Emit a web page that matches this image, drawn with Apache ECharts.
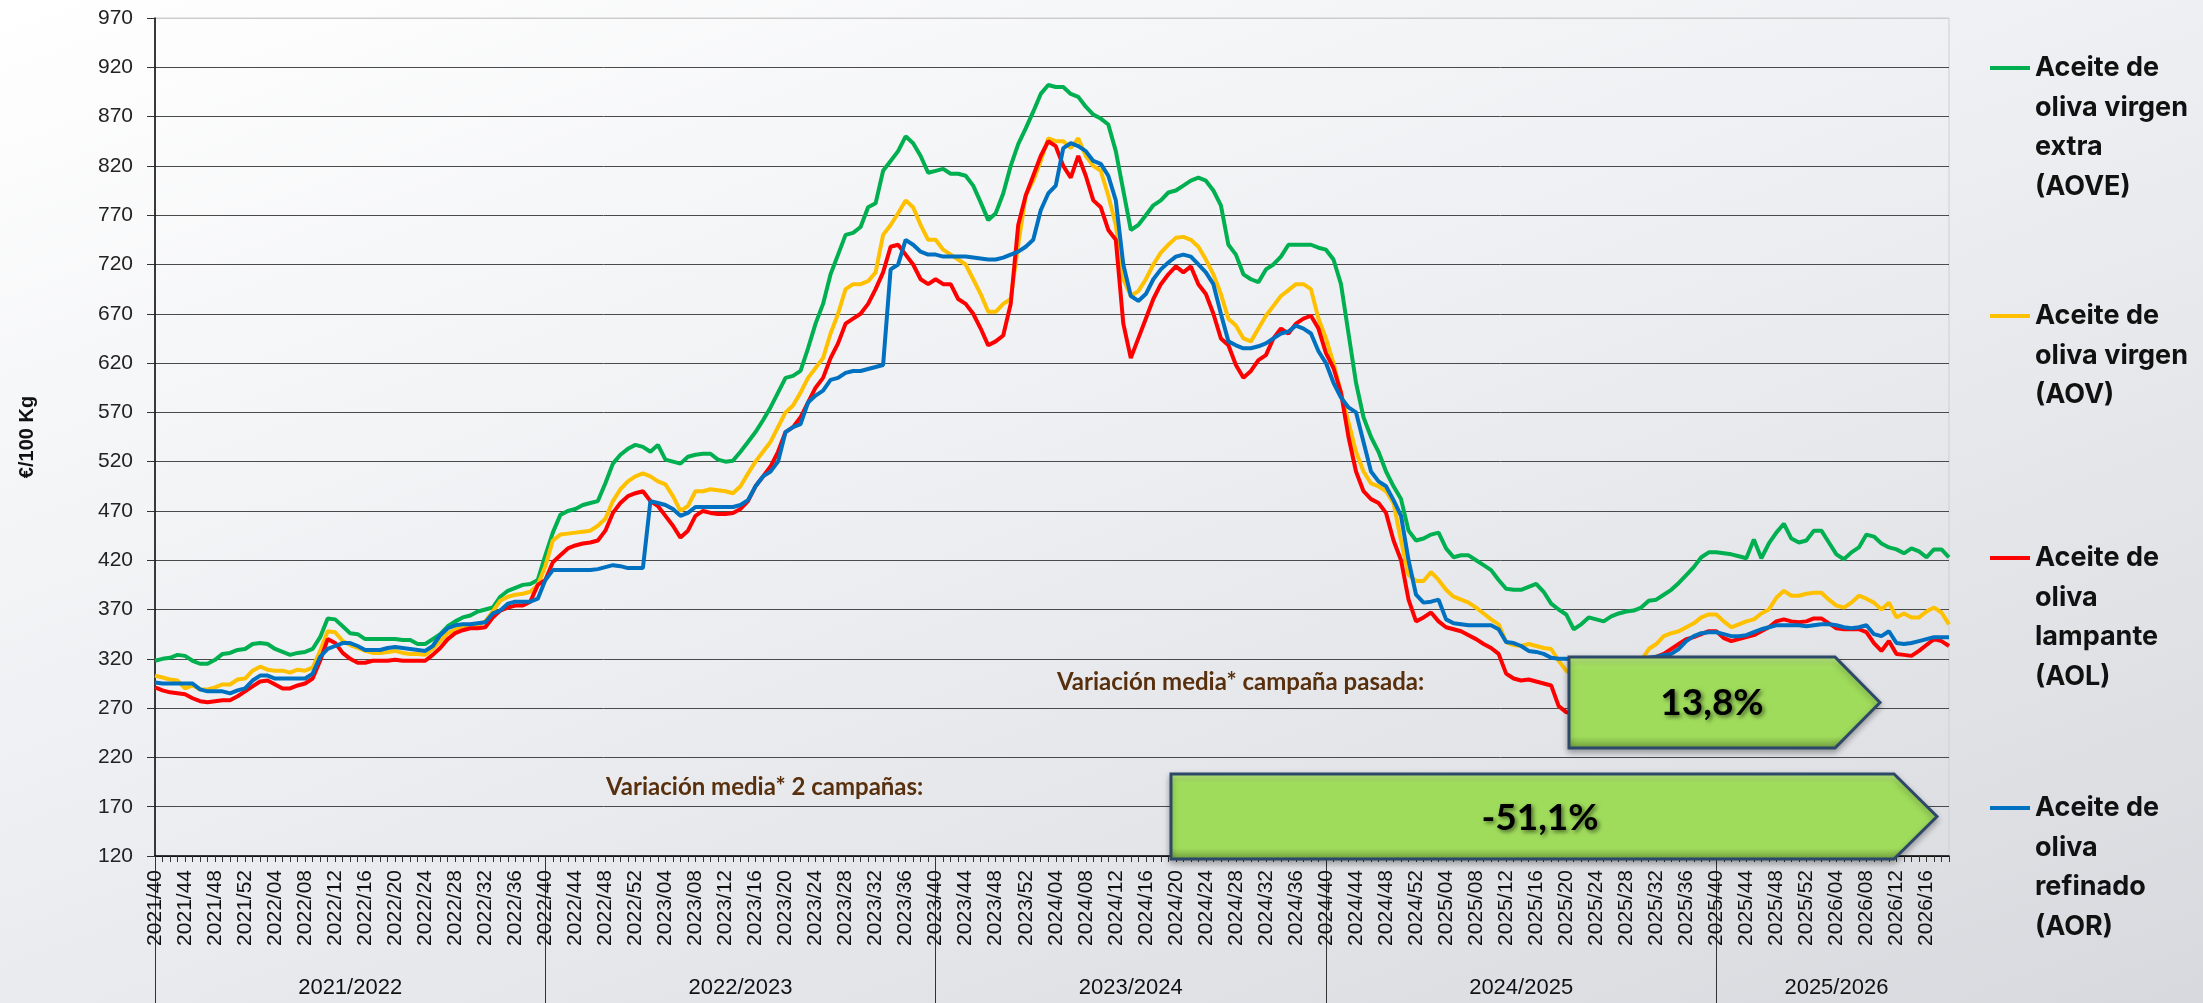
<!DOCTYPE html>
<html>
<head>
<meta charset="utf-8">
<title>Precios aceite de oliva</title>
<script src="https://cdn.jsdelivr.net/npm/echarts@6/dist/echarts.min.js"></script>
<style>
  html, body { margin: 0; padding: 0; }
  #chart {
    width: 2203px; height: 1003px;
    background: linear-gradient(160deg, #ffffff 0%, #eeeff2 45%, #d7d9de 100%);
  }
</style>
</head>
<body>
<div id="chart"></div>
<script>
// semanas 2021/40 ... 2026/19 (años ISO de 52 semanas)
const weeks = [];
for (let y = 2021, w = 40; weeks.length < 240; w++) {
  if (w > 52) { y++; w = 1; }
  weeks.push(y + '/' + String(w).padStart(2, '0'));
}

// campañas: empiezan en la semana 40
const campaigns = ['2021/2022', '2022/2023', '2023/2024', '2024/2025', '2025/2026'];
const campaignStart = [0, 52, 104, 156, 208];
const campaignMid = [26, 78, 130, 182, 224];

const yTicks = { min: 120, max: 970, step: 50 };

// €/100 kg, una fila por campaña
const aove = [
  318, 320, 321, 324, 323, 318, 315, 315, 319, 325, 326, 329, 330, 335, 336, 335, 330, 327, 324, 326, 327, 330, 342, 361, 360, 353, 346, 345, 340, 340, 340, 340, 340, 339, 339, 335, 335, 340, 345, 353, 358, 362, 364, 368, 370, 372, 383, 389, 392, 395, 396, 400,
  425, 448, 466, 470, 472, 476, 478, 480, 498, 518, 527, 533, 537, 535, 530, 537, 522, 520, 518, 525, 527, 528, 528, 522, 520, 521, 530, 540, 550, 562, 575, 590, 605, 607, 612, 635, 660, 680, 710, 730, 750, 752, 758, 778, 782, 815, 825, 835, 850, 843, 830, 813,
  815, 817, 812, 812, 810, 800, 783, 765, 772, 792, 820, 842, 858, 875, 893, 902, 900, 900, 893, 890, 880, 872, 868, 862, 835, 795, 755, 760, 770, 780, 785, 793, 795, 800, 805, 808, 805, 795, 780, 740, 730, 710, 705, 702, 715, 720, 728, 740, 740, 740, 740, 737,
  735, 725, 700, 650, 600, 565, 545, 530, 510, 495, 482, 450, 440, 442, 446, 448, 432, 423, 425, 425, 420, 415, 410, 400, 391, 390, 390, 393, 396, 388, 376, 370, 365, 350, 355, 362, 360, 358, 363, 366, 368, 369, 372, 379, 380, 385, 390, 397, 405, 413, 423, 428,
  428, 427, 426, 424, 422, 441, 422, 437, 448, 457, 442, 438, 440, 450, 450, 438, 426, 421, 428, 433, 446, 444, 437, 433, 431, 427, 432, 429, 423, 431, 431, 423
];
const aov = [
  303, 301, 299, 298, 290, 293, 289, 289, 291, 294, 294, 299, 300, 308, 312, 309, 308, 308, 306, 309, 308, 311, 328, 348, 347, 338, 334, 331, 328, 326, 326, 327, 328, 326, 325, 325, 324, 330, 338, 346, 350, 353, 353, 354, 358, 368, 379, 383, 385, 386, 388, 395,
  414, 440, 446, 447, 448, 449, 450, 455, 462, 480, 492, 500, 505, 508, 505, 500, 497, 485, 470, 475, 490, 490, 492, 491, 490, 488, 495, 508, 520, 530, 540, 555, 570, 577, 590, 605, 615, 625, 650, 670, 695, 700, 700, 703, 712, 750, 760, 772, 785, 778, 760, 745,
  745, 735, 730, 725, 720, 705, 690, 672, 672, 680, 685, 740, 790, 805, 825, 848, 845, 845, 838, 848, 830, 820, 815, 790, 760, 705, 688, 693, 705, 720, 732, 740, 747, 748, 745, 738, 725, 710, 690, 665, 658, 645, 642, 655, 668, 678, 688, 694, 700, 700, 695, 665,
  645, 620, 590, 560, 530, 510, 498, 495, 490, 478, 440, 405, 399, 399, 408, 400, 390, 383, 380, 377, 372, 366, 360, 355, 337, 334, 333, 335, 333, 331, 330, 318, 308, 303, 298, 295, 293, 292, 295, 300, 305, 312, 318, 330, 335, 343, 346, 348, 352, 356, 362, 365,
  365, 358, 352, 355, 358, 360, 366, 370, 382, 389, 384, 384, 386, 387, 387, 380, 374, 372, 377, 384, 381, 377, 370, 377, 362, 366, 362, 362, 368, 372, 367, 355
];
const aol = [
  291, 288, 286, 285, 284, 280, 277, 276, 277, 278, 278, 282, 287, 292, 297, 298, 294, 290, 290, 293, 295, 300, 318, 340, 336, 326, 320, 316, 316, 318, 318, 318, 319, 318, 318, 318, 318, 324, 331, 340, 346, 349, 351, 351, 352, 362, 369, 372, 374, 374, 378, 395,
  400, 418, 425, 432, 435, 437, 438, 440, 450, 468, 478, 485, 488, 490, 480, 475, 465, 455, 443, 450, 465, 470, 468, 467, 467, 468, 472, 480, 495, 505, 515, 530, 550, 555, 565, 580, 595, 605, 625, 640, 660, 665, 670, 680, 695, 712, 738, 740, 730, 720, 705, 700,
  705, 700, 700, 685, 680, 670, 655, 638, 642, 648, 680, 760, 790, 810, 830, 845, 840, 820, 808, 830, 810, 785, 778, 755, 745, 660, 625, 645, 665, 685, 700, 710, 718, 712, 718, 700, 690, 670, 645, 638, 618, 605, 612, 623, 628, 645, 655, 650, 660, 665, 668, 655,
  630, 615, 590, 545, 510, 490, 482, 478, 468, 440, 420, 380, 358, 362, 367, 358, 352, 350, 348, 344, 340, 335, 331, 325, 305, 300, 298, 299, 297, 295, 293, 272, 266, 264, 262, 265, 272, 280, 288, 295, 300, 306, 312, 318, 322, 325, 330, 335, 340, 342, 345, 348,
  348, 341, 338, 340, 342, 344, 348, 352, 358, 360, 358, 357, 358, 361, 361, 356, 351, 350, 350, 350, 347, 336, 328, 338, 325, 324, 323, 328, 334, 340, 338, 333
];
const aor = [
  296, 295, 295, 295, 295, 295, 289, 287, 287, 287, 285, 288, 290, 298, 303, 303, 300, 300, 300, 300, 300, 305, 322, 330, 333, 336, 336, 333, 329, 329, 329, 331, 332, 331, 330, 329, 328, 333, 344, 351, 354, 355, 355, 356, 357, 366, 369, 376, 378, 378, 378, 381,
  400, 410, 410, 410, 410, 410, 410, 411, 413, 415, 414, 412, 412, 412, 480, 478, 476, 472, 465, 468, 474, 474, 474, 474, 474, 474, 476, 481, 495, 505, 510, 520, 550, 555, 558, 580, 587, 592, 603, 605, 610, 612, 612, 614, 616, 618, 715, 720, 745, 740, 733, 730,
  730, 728, 728, 728, 728, 727, 726, 725, 725, 727, 730, 733, 738, 745, 775, 792, 800, 838, 843, 840, 835, 825, 822, 810, 785, 720, 688, 683, 690, 705, 715, 722, 728, 730, 728, 720, 712, 700, 670, 642, 638, 635, 635, 637, 640, 645, 650, 652, 658, 655, 650, 632,
  620, 600, 585, 575, 570, 540, 510, 500, 495, 481, 465, 420, 385, 377, 378, 380, 360, 356, 355, 354, 354, 354, 354, 350, 337, 336, 333, 328, 327, 325, 321, 320, 320, 319, 318, 317, 317, 316, 317, 318, 318, 319, 320, 321, 322, 324, 325, 330, 338, 343, 346, 347,
  347, 345, 343, 343, 344, 347, 350, 352, 354, 354, 354, 354, 353, 354, 355, 355, 354, 352, 351, 352, 354, 345, 343, 348, 336, 335, 336, 338, 340, 342, 342, 342
];

const seriesNames = [
  'Aceite de\noliva virgen\nextra\n(AOVE)',
  'Aceite de\noliva virgen\n(AOV)',
  'Aceite de\noliva\nlampante\n(AOL)',
  'Aceite de\noliva\nrefinado\n(AOR)'
];
const seriesData = [aove, aov, aol, aor];
const colors = ['#00b050', '#ffc000', '#ff0000', '#0070c0'];

// textos de variación
const variationLabels = ['Variación media* campaña pasada:', 'Variación media* 2 campañas:'];
const variationValues = ['13,8%', '-51,1%'];

let chart = echarts.init(document.getElementById('chart'));

// leyenda a la derecha: la línea queda a la altura de la primera fila del texto
const legendLineY = [68, 316, 558, 808];
const lh = 39.5;
const legends = seriesNames.map(function (name, i) {
  let n = name.split('\n').length;
  return {
    data: [name],
    left: 1990,
    top: legendLineY[i] - (2 * n - 1) * lh / 2,
    padding: 0,
    orient: 'vertical',
    icon: 'rect',
    itemWidth: 40,
    itemHeight: 4,
    selectedMode: false,
    formatter: function (v) { return '\n'.repeat(n - 1) + v; },
    textStyle: { fontFamily: 'Inter', fontWeight: 'bold', fontSize: 27, lineHeight: lh, color: '#111' }
  };
});

const arrowFill = {
  type: 'linear', x: 0, y: 0, x2: 0, y2: 1,
  colorStops: [
    { offset: 0, color: '#c9f88f' },
    { offset: 0.1, color: '#a6e262' },
    { offset: 0.16, color: '#9fdc5b' },
    { offset: 0.86, color: '#9fdc5b' },
    { offset: 1, color: '#6f9b3d' }
  ]
};
function arrow(x0, x1, tip, y0, y1) {
  return {
    type: 'polygon', z: 100,
    shape: { points: [[x0, y0], [x1, y0], [tip, (y0 + y1) / 2], [x1, y1], [x0, y1]] },
    style: { fill: arrowFill, stroke: '#2d4868', lineWidth: 3, shadowBlur: 6, shadowOffsetY: 3, shadowColor: 'rgba(0,0,0,0.3)' }
  };
}
function bigText(txt, x, y) {
  return {
    type: 'text', z: 101, x: x, y: y,
    style: {
      text: txt, fill: '#000', font: 'bold 37px Lato', align: 'center', verticalAlign: 'middle',
      textShadowColor: 'rgba(0,0,0,0.55)', textShadowBlur: 4, textShadowOffsetX: 2, textShadowOffsetY: 2
    }
  };
}
function noteText(txt, x, y) {
  return {
    type: 'text', z: 101, x: x, y: y,
    style: { text: txt, fill: '#58300e', font: 'bold 24px Lato', align: 'left', verticalAlign: 'middle' }
  };
}

chart.setOption({
  animation: false,
  color: colors,
  grid: { left: 155, right: 254, top: 18, bottom: 147, show: true, borderColor: '#cfcfcf', borderWidth: 1, backgroundColor: 'transparent' },
  legend: legends,
  xAxis: [
    {
      type: 'category', data: weeks, boundaryGap: false,
      axisLine: { lineStyle: { color: '#000', width: 1.5 } },
      axisTick: { interval: 0, length: 6, lineStyle: { color: '#333' } },
      axisLabel: { interval: 3, rotate: 90, margin: 14, fontFamily: 'Liberation Sans', fontSize: 21, color: '#111' },
      splitLine: { show: false }
    },
    { // fila de campañas
      type: 'category', data: weeks, boundaryGap: false, position: 'bottom',
      axisLine: { show: false },
      axisTick: {
        interval: function (i) { return campaignStart.indexOf(i) >= 0; },
        length: 147, lineStyle: { color: '#333', width: 1 }
      },
      axisLabel: {
        interval: function (i) { return campaignMid.indexOf(i) >= 0; },
        formatter: function (v, i) { return campaigns[campaignMid.indexOf(i)]; },
        margin: 121, fontFamily: 'Liberation Sans', fontSize: 22, color: '#111'
      },
      splitLine: { show: false }
    }
  ],
  yAxis: {
    type: 'value', min: yTicks.min, max: yTicks.max, interval: yTicks.step,
    name: '€/100 Kg', nameLocation: 'middle', nameRotate: 90, nameGap: 118,
    nameTextStyle: { fontFamily: 'Liberation Sans', fontWeight: 'bold', fontSize: 20, color: '#111' },
    axisLine: { show: true, lineStyle: { color: '#000', width: 1.5 } },
    axisTick: { show: true, length: 8, lineStyle: { color: '#333' } },
    axisLabel: { margin: 22, fontFamily: 'Liberation Sans', fontSize: 21, color: '#222' },
    splitLine: { lineStyle: { color: Array(17).fill('#4a4a4a').concat('#cccccc'), width: 1 } }
  },
  series: seriesNames.map(function (name, i) {
    return {
      name: name, type: 'line', data: seriesData[i], symbol: 'none',
      lineStyle: { width: 4, color: colors[i] }, itemStyle: { color: colors[i] }
    };
  }),
  graphic: [
    noteText(variationLabels[0], 1057, 682),
    arrow(1569, 1835, 1880, 657, 748),
    bigText(variationValues[0], 1712, 703),
    noteText(variationLabels[1], 606, 787),
    arrow(1171, 1894, 1937, 774, 859),
    bigText(variationValues[1], 1540, 818)
  ]
});
</script>
</body>
</html>
